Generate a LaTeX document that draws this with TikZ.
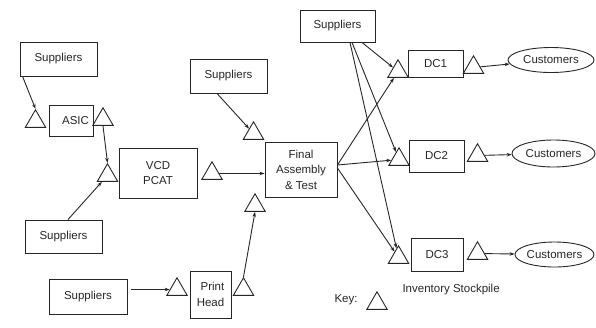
\documentclass[tikz,border=0pt]{standalone}
\usepackage{fontspec}
\setmainfont{Liberation Sans}
\usetikzlibrary{shapes.geometric,arrows.meta}
\begin{document}
\begin{tikzpicture}[x=1pt,y=-1pt,
  every node/.style={font=\fontsize{11.5}{15.5}\selectfont, text=black!85},
  box/.style={draw=black!85, line width=0.9pt, inner sep=0pt, align=center},
  tri/.style={draw=black!85, line width=0.9pt, regular polygon, regular polygon sides=3, minimum size=23.5pt, inner sep=0pt},
  cust/.style={draw=black!85, ellipse, line width=0.9pt, inner sep=0pt},
  arr/.style={draw=black!85, line width=0.9pt, -{Stealth[length=5pt,width=3.5pt]}}]
\useasboundingbox (0,0) rectangle (596,327);

% left part
\node[box, minimum width=77pt, minimum height=34pt] (S1) at (58.5,59) {Suppliers};
\node[tri] (TaL) at (35.5,121.5) {};
\node[box, minimum width=44pt, minimum height=31pt] (ASIC) at (71,120.5) {\hspace*{9pt}ASIC};
\node[tri] (TaR) at (103,119.5) {};
\node[tri] (Tv1) at (107.5,175.5) {};
\node[box, minimum width=78pt, minimum height=50pt] (VCD) at (158,173) {VCD\\PCAT};
\node[tri] (Tv2) at (212,173.5) {};
\node[box, minimum width=77pt, minimum height=33pt] (S2) at (63.5,236.5) {Suppliers};
\node[box, minimum width=78pt, minimum height=35pt] (S3) at (88,296.5) {Suppliers};
\node[tri] (Tp1) at (177,289.5) {};
\node[box, minimum width=41pt, minimum height=47pt, align=right] (PH) at (210.5,294.5) {Print\\Head};
\node[tri] (Tp2) at (243.5,289.5) {};

% middle
\node[box, minimum width=77pt, minimum height=34pt] (S4) at (228.5,76) {Suppliers};
\node[tri] (Tf1) at (253.5,133.5) {};
\node[box, minimum width=72pt, minimum height=55pt] (FA) at (301,169.5) {Final\\Assembly\\\& Test};
\node[tri] (Tf2) at (255,205.5) {};

% right part
\node[box, minimum width=75pt, minimum height=32pt] (S5) at (337.5,26) {Suppliers};
\node[tri] (Td1L) at (398,71.5) {};
\node[box, minimum width=55pt, minimum height=27pt] (DC1) at (435.5,63.5) {DC1};
\node[tri] (Td1R) at (473.5,67.5) {};
\node[cust, minimum width=86pt, minimum height=25pt] (C1) at (551,60) {Customers};
\node[tri] (Td2L) at (399,159.5) {};
\node[box, minimum width=55pt, minimum height=32pt] (DC2) at (436.5,156) {DC2};
\node[tri] (Td2R) at (477.5,155.5) {};
\node[cust, minimum width=83pt, minimum height=27pt] (C2) at (553.5,153.5) {Customers};
\node[tri] (Td3L) at (398.5,257.5) {};
\node[box, minimum width=52pt, minimum height=33pt] (DC3) at (437,254.5) {DC3};
\node[tri] (Td3R) at (477.5,253.5) {};
\node[cust, minimum width=79pt, minimum height=25pt] (C3) at (554.5,254.5) {Customers};

% key
\node (K) at (346,300) {Key:};
\node[tri] (TK) at (377,303.5) {};
\node[anchor=west] (KT) at (399,290) {Inventory Stockpile};

% connectors
\draw[arr] ([xshift=3pt]S1.south west) -- (TaL.corner 1);
\draw[arr] (TaR.side 2) -- (Tv1.corner 1);
\draw[arr] ([xshift=4.5pt]S2.north) -- (Tv1);
\draw[arr] (Tv2.east) -- (Tv2.east -| FA.west);
\draw[arr] ([xshift=-11.5pt]S4.south) -- (Tf1);
\draw[arr, shorten <=4pt] (S3.east |- Tp1.west) -- (Tp1.west);
\draw[arr] (Tp2.corner 1) -- (Tf2.side 2);
\draw[arr] ([xshift=24.5pt]S5.south) -- (Td1L);
\draw[arr] ([xshift=14.5pt]S5.south) -- (Td2L);
\draw[arr] ([xshift=12.5pt]S5.south) -- (Td3L);
\draw[arr] ([yshift=4.5pt]FA.east) -- (Td1L);
\draw[arr] ([yshift=4.5pt]FA.east) -- (Td2L);
\draw[arr] ([yshift=1.5pt]FA.east) -- (Td3L);
\draw[arr] (Td1R) -- (C1);
\draw[arr] (Td2R) -- (C2);
\draw[arr] (Td3R) -- (C3);
\end{tikzpicture}
\end{document}
